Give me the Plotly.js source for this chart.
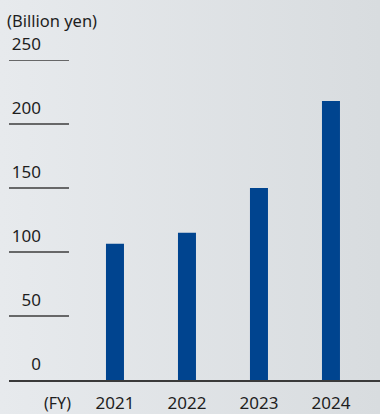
<!DOCTYPE html>
<html>
<head>
<meta charset="utf-8">
<script src="https://cdn.plot.ly/plotly-3.0.1.min.js"></script>
<style>
  html, body { margin: 0; padding: 0; }
  body { width: 380px; height: 414px; background: linear-gradient(to right, #e7eaed, #d8dcdf); }
  #chart { width: 380px; height: 414px; }
</style>
</head>
<body>
<div id="chart"></div>
<script>
const years = ["2021", "2022", "2023", "2024"];
const values = [106.5, 115, 150, 218];
const yTicks = [0, 50, 100, 150, 200, 250];
const yUnit = "(Billion yen)";
const xUnit = "(FY)";

const FONT = "Noto Sans, Open Sans, sans-serif";
const TEXT = "#1e1e1e";

const gridShapes = yTicks.filter(v => v !== 0).map(v => ({
  type: "line", xref: "paper", yref: "y",
  x0: 0, x1: 0.1617, y0: v, y1: v,
  line: { color: "#3c3c3c", width: 1.3 }
}));

const data = [{
  type: "bar",
  x: years.map((_, i) => i),
  y: values,
  width: 0.25,
  marker: { color: "#00448f" },
  hoverinfo: "skip"
}];

const layout = {
  width: 380, height: 414,
  margin: { l: 9, r: 0, t: 60, b: 34 },
  paper_bgcolor: "rgba(0,0,0,0)",
  plot_bgcolor: "rgba(0,0,0,0)",
  showlegend: false,
  font: { family: FONT, color: TEXT, size: 16 },
  xaxis: {
    range: [-1.472, 3.681],
    tickvals: years.map((_, i) => i),
    ticktext: years,
    showgrid: false, zeroline: false,
    showline: true, linecolor: "#3a3a3a", linewidth: 1.5,
    ticks: "",
    tickfont: { family: FONT, size: 17, color: TEXT },
    ticklabelstandoff: 7,
    fixedrange: true
  },
  yaxis: {
    range: [0, 250],
    tickvals: yTicks,
    ticktext: yTicks.map(String),
    showgrid: false, zeroline: false, showline: false,
    ticks: "",
    anchor: "free",
    position: 0.086,
    ticklabelshift: -16,
    ticklabelstandoff: 0,
    tickfont: { family: FONT, size: 17, color: TEXT },
    fixedrange: true
  },
  shapes: gridShapes,
  annotations: [
    { text: yUnit, xref: "paper", yref: "paper", x: -0.012, y: 1.122, xanchor: "left", yanchor: "middle",
      showarrow: false, font: { family: FONT, size: 16.5, color: TEXT } },
    { text: xUnit, xref: "paper", yref: "paper", x: 0.132, y: 0, yshift: -23, xanchor: "center", yanchor: "middle",
      borderpad: 0, showarrow: false, font: { family: FONT, size: 16, color: TEXT } }
  ]
};

Plotly.newPlot("chart", data, layout, { displayModeBar: false, staticPlot: true });
</script>
</body>
</html>
